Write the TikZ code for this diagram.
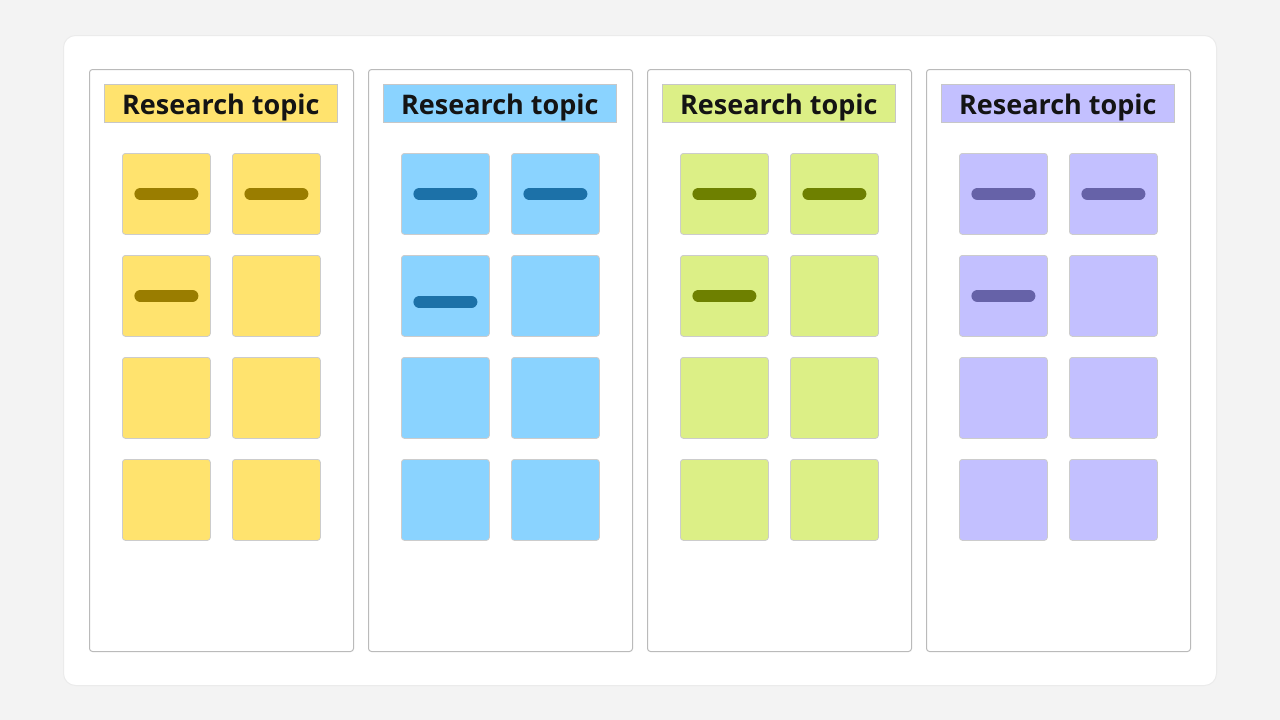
\documentclass[tikz,border=0pt]{standalone}
\usepackage{fontspec}
\setmainfont{Open Sans}
\begin{document}
\begin{tikzpicture}[x=1pt,y=-1pt,
  card/.style={draw=black!8,fill=white,rounded corners=12pt,line width=1pt,inner sep=0pt,anchor=north west,minimum width=1153pt,minimum height=650pt},
  column/.style={draw=black!27,fill=white,rounded corners=3pt,line width=1pt,inner sep=0pt,anchor=north west,minimum width=264pt,minimum height=582pt},
  header/.style={draw=black!22,line width=0.8pt,inner sep=0pt,anchor=north west,minimum width=233pt,minimum height=38pt,text height=24pt,text depth=2pt,font=\fontsize{27pt}{29pt}\selectfont\bfseries,text=black!92},
  sticky/.style={draw=black!20,line width=0.8pt,rounded corners=3pt,inner sep=0pt,anchor=north west,minimum width=88pt,minimum height=81pt},
  dashline/.style={line width=12pt,line cap=round},
]
\definecolor{bgc}{HTML}{F3F3F3}
\definecolor{yel}{HTML}{FFE36E}
\definecolor{yeld}{HTML}{9A7D00}
\definecolor{blu}{HTML}{8AD3FF}
\definecolor{blud}{HTML}{1C71A8}
\definecolor{gre}{HTML}{DCEF86}
\definecolor{gred}{HTML}{6E8000}
\definecolor{pur}{HTML}{C3C0FF}
\definecolor{purd}{HTML}{6662A8}
\fill[bgc] (0,0) rectangle (1280,720);
\useasboundingbox (0,0) rectangle (1280,720);
\node[card] (card) at (63,35) {};
\foreach \c/\fc/\dc/\dy [count=\i from 0] in {a/yel/yeld/0,b/blu/blud/6,c/gre/gred/0,d/pur/purd/0}{
  \pgfmathsetmacro{\xo}{89+279*\i}
  \node[column] (col\c) at (\xo,69) {};
  \node[header,fill=\fc] (head\c) at (\xo+15,84) {Research topic};
  \foreach \r in {0,1,2,3}{
    \foreach \k in {0,1}{
      \node[sticky,fill=\fc] (st\c\r\k) at (\xo+33+110*\k,153+102*\r) {};
    }
  }
  \draw[dashline,\dc] ([xshift=-26pt]st\c00.center) -- ([xshift=26pt]st\c00.center);
  \draw[dashline,\dc] ([xshift=-26pt]st\c01.center) -- ([xshift=26pt]st\c01.center);
  \draw[dashline,\dc] ([xshift=-26pt,yshift=-\dy pt]st\c10.center) -- ([xshift=26pt,yshift=-\dy pt]st\c10.center);
}
\end{tikzpicture}
\end{document}
